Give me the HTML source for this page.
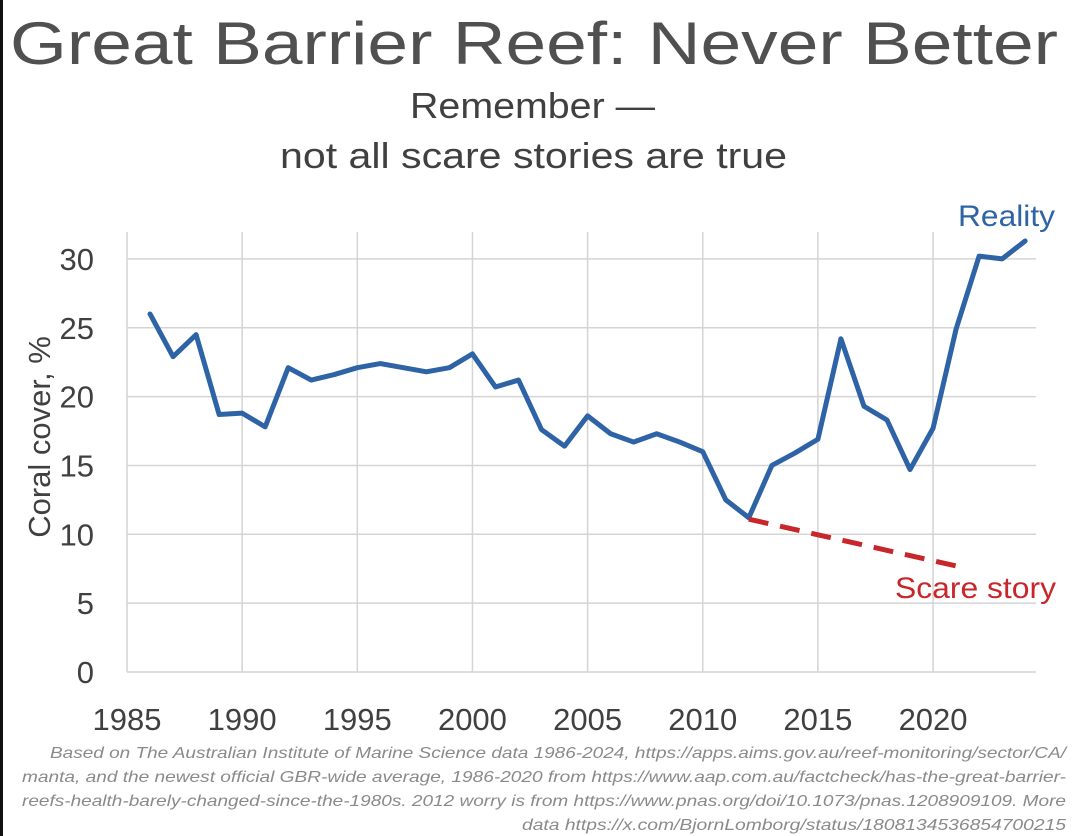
<!DOCTYPE html>
<html><head><meta charset="utf-8"><style>
body{margin:0;background:#fff;}
#wrap{position:relative;width:1080px;height:836px;overflow:hidden;background:#fff;font-family:"Liberation Sans",sans-serif;}
#bar{position:absolute;left:0;top:0;width:3px;height:836px;background:#111;}
svg{position:absolute;left:0;top:0;}
</style></head><body>
<div id="wrap">
<div id="bar"></div>
<svg id="chart" width="1080" height="836" viewBox="0 0 1080 836">
<text x="10" y="64" textLength="1048" lengthAdjust="spacingAndGlyphs" font-size="60" fill="#505050">Great Barrier Reef: Never Better</text>
<text x="410" y="118" textLength="245" lengthAdjust="spacingAndGlyphs" font-size="36" fill="#404040">Remember —</text>
<text x="280" y="168" textLength="507" lengthAdjust="spacingAndGlyphs" font-size="36" fill="#404040">not all scare stories are true</text>
<g id="grid"></g><g id="series"></g>
<text transform="translate(50,437) rotate(-90)" text-anchor="middle" font-size="31" fill="#404040">Coral cover, %</text>
<text x="958" y="226" textLength="97" lengthAdjust="spacingAndGlyphs" font-size="30" fill="#2e63a6">Reality</text>
<text x="895" y="598" textLength="161" lengthAdjust="spacingAndGlyphs" font-size="30" fill="#c8262b">Scare story</text>
<g font-size="16" font-style="italic" fill="#8a8a8a" lengthAdjust="spacingAndGlyphs">
<text x="50" y="758" textLength="1016" lengthAdjust="spacingAndGlyphs">Based on The Australian Institute of Marine Science data 1986-2024, https://apps.aims.gov.au/reef-monitoring/sector/CA/</text>
<text x="22" y="782" textLength="1044" lengthAdjust="spacingAndGlyphs">manta, and the newest official GBR-wide average, 1986-2020 from https://www.aap.com.au/factcheck/has-the-great-barrier-</text>
<text x="22" y="806" textLength="1044" lengthAdjust="spacingAndGlyphs">reefs-health-barely-changed-since-the-1980s. 2012 worry is from https://www.pnas.org/doi/10.1073/pnas.1208909109. More</text>
<text x="522" y="830" textLength="544" lengthAdjust="spacingAndGlyphs">data https://x.com/BjornLomborg/status/1808134536854700215</text>
</g>
</svg>
</div>
<script>
const years=[1986,1987,1988,1989,1990,1991,1992,1993,1994,1995,1996,1997,1998,1999,2000,2001,2002,2003,2004,2005,2006,2007,2008,2009,2010,2011,2012,2013,2014,2015,2016,2017,2018,2019,2020,2021,2022,2023,2024];
const cover=[26,22.9,24.5,18.7,18.8,17.8,22.1,21.2,21.6,22.1,22.4,22.1,21.8,22.1,23.1,20.7,21.2,17.6,16.4,18.6,17.3,16.7,17.3,16.7,16.0,12.5,11.2,15.0,15.9,16.9,24.2,19.3,18.3,14.7,17.7,24.9,30.2,30.0,31.3];
const scareYears=[2012,2021];
const scareValues=[11.1,7.7];
const yTicks=[0,5,10,15,20,25,30];
const xTicks=[1985,1990,1995,2000,2005,2010,2015,2020];
const NS="http://www.w3.org/2000/svg";
const X=v=>127+(v-1985)*23.03;
const Y=v=>672-v*13.77;
const L=127,R=1036,T=232;
function mk(tag,attrs,parent){const e=document.createElementNS(NS,tag);for(const k in attrs)e.setAttribute(k,attrs[k]);parent.appendChild(e);return e;}
const grid=document.getElementById('grid'),ser=document.getElementById('series');
yTicks.forEach(t=>{
 const l=mk('line',{x1:L,x2:R,y1:Y(t),y2:Y(t),stroke:'#d4d4d4','stroke-width':1.5},grid);
 
 
 const tx=mk('text',{x:94,y:Y(t)+11,'text-anchor':'end','font-size':31,fill:'#404040'},grid);
 tx.textContent=t;
 
 
});
xTicks.forEach(t=>{
 const l=mk('line',{x1:X(t),x2:X(t),y1:T,y2:Y(0),stroke:'#d4d4d4','stroke-width':1.5},grid);
 
 
 const tx=mk('text',{x:X(t),y:730,'text-anchor':'middle','font-size':31,fill:'#404040'},grid);
 tx.textContent=t;
 
 
});
const p=mk('polyline',{points:years.map((y,i)=>X(y)+','+Y(cover[i])).join(' '),fill:'none',stroke:'#2e63a6','stroke-width':5,'stroke-linejoin':'round','stroke-linecap':'round'},ser);


const s=mk('line',{x1:X(scareYears[0]),y1:Y(scareValues[0]),x2:X(scareYears[1]),y2:Y(scareValues[1]),stroke:'#c8262b','stroke-width':5,'stroke-dasharray':'20 12'},ser);


</script>
</body></html>
